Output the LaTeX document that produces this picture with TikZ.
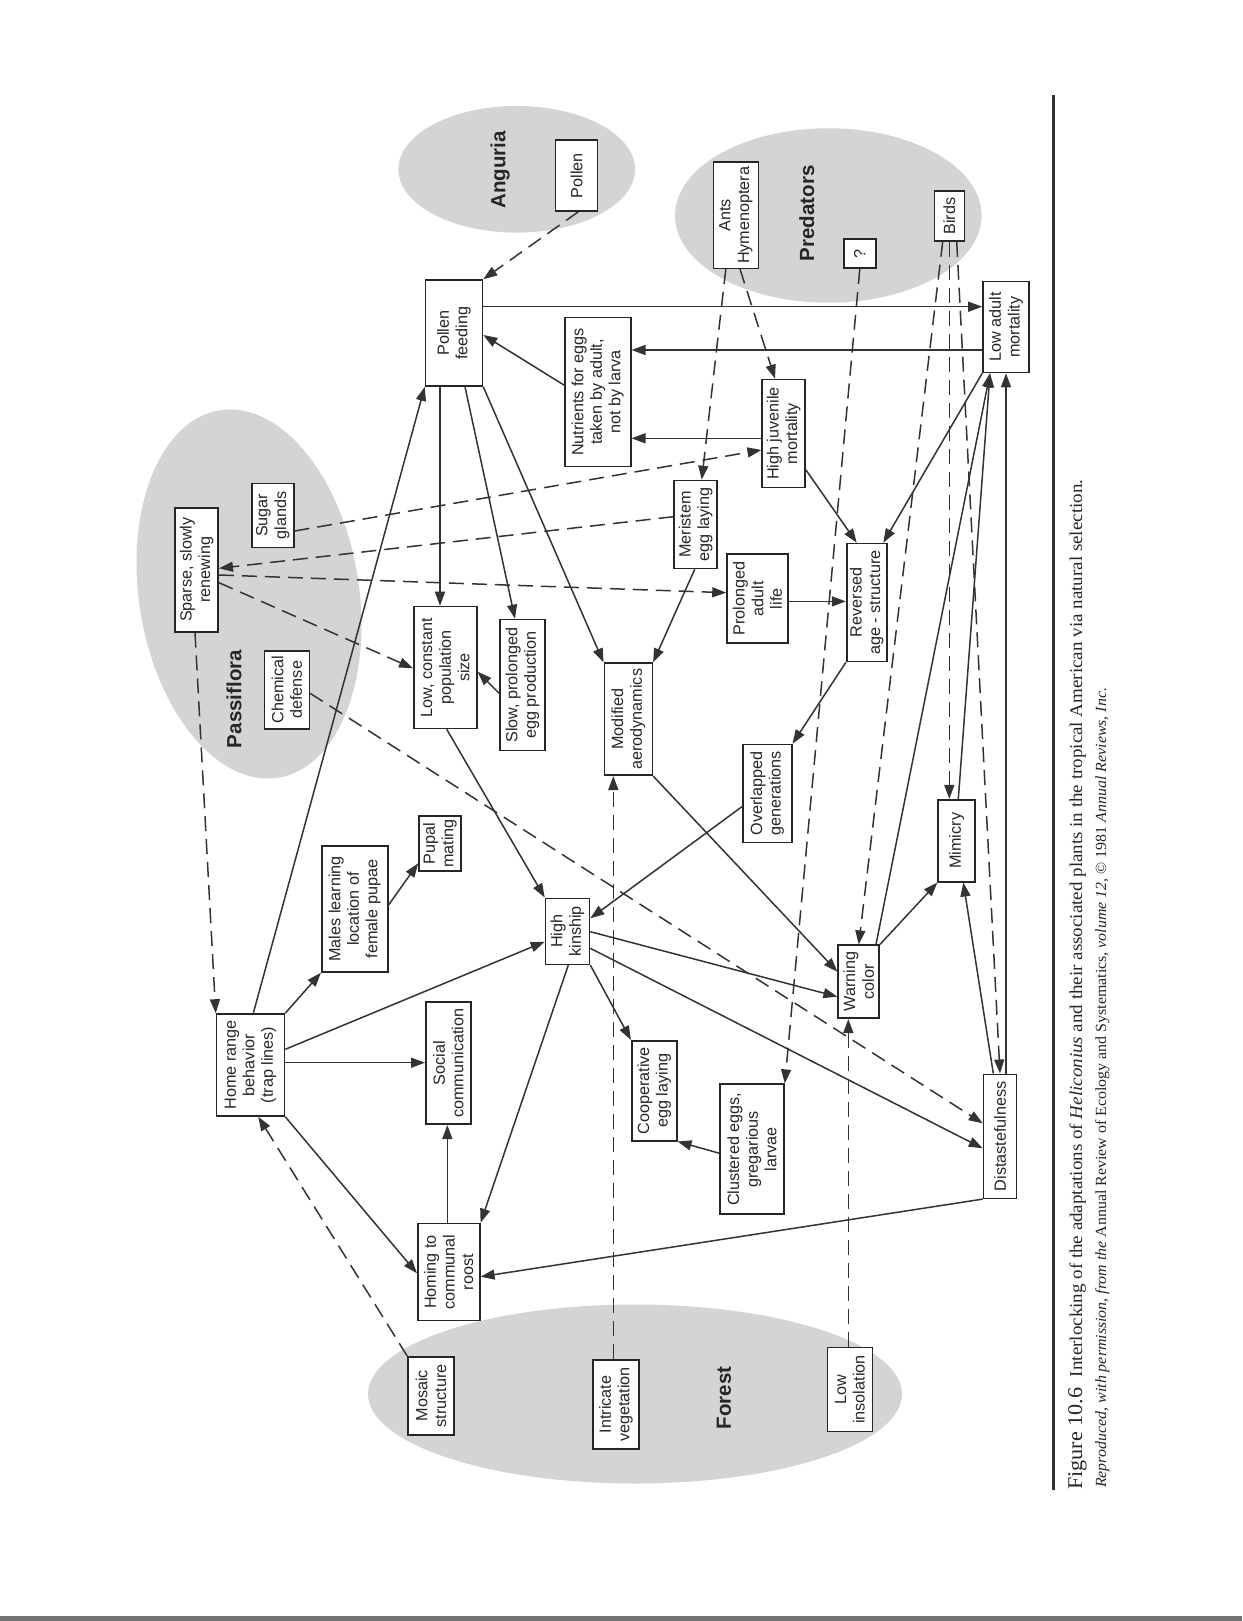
\documentclass[tikz,border=0pt]{standalone}
\usepackage{graphicx}
\usepackage{fontspec}
\setmainfont{Liberation Sans}
\newfontfamily\capfont{Liberation Serif}
\usetikzlibrary{arrows.meta,calc}
\pgfdeclarelayer{bg}
\pgfdeclarelayer{lines}
\pgfsetlayers{bg,lines,main}
\begin{document}
\begin{tikzpicture}[x=1pt,y=-1pt,
  box/.style={draw=black!85, line width=1.6pt, fill=white, rotate=90, align=center, inner sep=0pt, text=black!85, font=\fontsize{16.2}{18.6}\selectfont},
  conn/.style={draw=black!80, line width=1.5pt, -{Triangle[length=14pt,width=10pt]}},
  dsh/.style={conn, dash pattern=on 15pt off 8pt},
  region/.style={fill=black!17, draw=none},
  rlabel/.style={rotate=90, text=black!85, font=\fontsize{20.5}{24}\selectfont\bfseries},
]
\useasboundingbox (0,0) rectangle (1242,1621);

\begin{pgfonlayer}{bg}
\fill[white] (0,0) rectangle (1242,1621);
\fill[region] (516.7,169.3) ellipse [x radius=118.3, y radius=63.3];
\fill[region] (828.3,215.5) ellipse [x radius=153.3, y radius=87.2];
\fill[region, rotate around={9:(249,594)}] (249,594) ellipse [x radius=110, y radius=186];
\fill[region] (635,1394) ellipse [x radius=267, y radius=89.5];
\fill[black!55] (0,1616) rectangle (1242,1621);
\draw[black!80, line width=3.5pt] (1053.5,95) -- (1053.5,1490);
\end{pgfonlayer}

% region labels
\node[rlabel] (lAng) at (500,170) {Anguria};
\node[rlabel] (lPred) at (806.7,213.3) {Predators};
\node[rlabel] (lPass) at (234,699) {Passiflora};
\node[rlabel] (lFor) at (724,1398) {Forest};

% boxes
\node[box, minimum width=71pt, minimum height=42pt] (pollen) at (576.5,175.5) {Pollen};
\node[box, minimum width=106pt, minimum height=57pt] (pfeed) at (454,333) {Pollen\\feeding};
\node[box, minimum width=149pt, minimum height=66pt] (nutr) at (597.7,392) {Nutrients for eggs\\taken by adult,\\not by larva};
\node[box, minimum width=106pt, minimum height=45pt] (ants) at (735.8,215.3) {Ants\\Hymenoptera};
\node[box, minimum width=29pt, minimum height=32pt] (qm) at (859.8,253.7) {?};
\node[box, minimum width=50pt, minimum height=30pt] (birds) at (949.3,216) {Birds};
\node[box, minimum width=91pt, minimum height=46pt] (lam) at (1006,327) {Low adult\\mortality};
\node[box, minimum width=108pt, minimum height=43pt] (hjm) at (783.7,433.5) {High juvenile\\mortality};
\node[box, minimum width=64pt, minimum height=42pt] (sugar) at (272.8,515.3) {Sugar\\glands};
\node[box, minimum width=124pt, minimum height=43pt] (sparse) at (196.7,569.7) {Sparse, slowly\\renewing};
\node[box, minimum width=88pt, minimum height=43pt] (meri) at (695.7,524.5) {Meristem\\egg laying};
\node[box, minimum width=89pt, minimum height=61pt] (prol) at (757.5,598.7) {Prolonged\\adult\\life};
\node[box, minimum width=118pt, minimum height=40pt] (rev) at (866.7,602.5) {Reversed\\age - structure};
\node[box, minimum width=78pt, minimum height=45pt] (chem) at (286.8,689.8) {Chemical\\defense};
\node[box, minimum width=122pt, minimum height=63pt] (lowpop) at (445.3,667.5) {Low, constant\\population\\size};
\node[box, minimum width=131pt, minimum height=45pt] (slow) at (522.5,685) {Slow, prolonged\\egg production};
\node[box, minimum width=112pt, minimum height=48pt] (modaero) at (628.3,719.2) {Modified\\aerodynamics};
\node[box, minimum width=98pt, minimum height=49pt] (overl) at (767.2,793.5) {Overlapped\\generations};
\node[box, minimum width=55pt, minimum height=42pt] (pupal) at (440,843.3) {Pupal\\mating};
\node[box, minimum width=126pt, minimum height=66pt] (males) at (354.7,909) {Males learning\\location of\\female pupae};
\node[box, minimum width=82pt, minimum height=37pt] (mimic) at (956.7,840.7) {Mimicry};
\node[box, minimum width=66pt, minimum height=44pt] (kin) at (567.5,931.3) {High\\kinship};
\node[box, minimum width=73pt, minimum height=41pt] (warn) at (858.7,981.7) {Warning\\color};
\node[box, minimum width=102pt, minimum height=68pt] (home) at (250.5,1065) {Home range\\behavior\\(trap lines)};
\node[box, minimum width=122pt, minimum height=45pt] (social) at (448.3,1063.2) {Social\\communication};
\node[box, minimum width=100pt, minimum height=45pt] (coop) at (654.2,1090.7) {Cooperative\\egg laying};
\node[box, minimum width=130pt, minimum height=64pt] (clust) at (752,1149.2) {Clustered eggs,\\gregarious\\larvae};
\node[box, minimum width=124pt, minimum height=33pt] (dist) at (1000,1136.3) {Distastefulness};
\node[box, minimum width=97pt, minimum height=62pt] (homing) at (448.8,1272) {Homing to\\communal\\roost};
\node[box, minimum width=78pt, minimum height=46pt] (mosaic) at (431,1395.8) {Mosaic\\structure};
\node[box, minimum width=89pt, minimum height=46pt] (intric) at (616,1404.5) {Intricate\\vegetation};
\node[box, minimum width=84pt, minimum height=45pt] (lowins) at (849.8,1389.5) {Low\\insolation};

% caption
\node[rotate=90, anchor=base west, inner sep=0pt, text=black!85] (cap1) at (1082,1490)
  {\resizebox{1010pt}{\height}{\capfont\fontsize{21}{24}\selectfont Figure 10.6\hspace{10pt}\fontsize{18}{20}\selectfont Interlocking of the adaptations of \textit{Heliconius} and their associated plants in the tropical American via natural selection.}};
\node[rotate=90, anchor=base west, inner sep=0pt, text=black!85] (cap2) at (1106,1488)
  {\resizebox{800pt}{\height}{\capfont\fontsize{15.5}{18}\selectfont\textit{Reproduced, with permission, from the} Annual Review of Ecology and Systematics, \textit{volume 12,} © 1981 \textit{Annual Reviews, Inc.}}};

\begin{pgfonlayer}{lines}
% solid connectors
\draw[conn] ($(pfeed.south)+(0,-26.3)$) -- ($(lam.north)+(0,-20.3)$);
\draw[conn] ($(lam.north)+(0,23)$) -- ($(nutr.south)+(0,-42)$);
\draw[conn] ($(nutr.north)+(0,-7)$) -- ($(pfeed.south)+(0,2)$);
\draw[conn] ($(hjm.north)+(0,4.8)$) -- ($(nutr.south)+(0,46.3)$);
\draw[conn] ($(hjm.south)+(0,36.5)$) -- ($(rev.east)+(-10,0)$);
\draw[conn] ($(prol.south)+(0,2.7)$) -- ($(rev.north)+(0,-1.1)$);
\draw[conn] (lam.north west) -- ($(rev.east)+(16.6,0)$);
\draw[conn] ($(warn.south east)+(-4,0)$) -- ($(lam.west)+(-16,0)$);
\draw[conn] ($(mimic.east)+(1.6,0)$) -- ($(lam.west)+(-16,0)$);
\draw[conn] ($(dist.east)+(6,0)$) -- (lam.west);
\draw[conn] (rev.north west) -- (overl.south east);
\draw[conn] ($(overl.north)+(0,13.2)$) -- ($(kin.south)+(0,-13)$);
\draw[conn] ($(pfeed.west)+(-14,0)$) -- ($(lowpop.east)+(-5.3,0)$);
\draw[conn] ($(pfeed.west)+(11,0)$) -- ($(slow.east)+(-7.5,0)$);
\draw[conn] (pfeed.south west) -- (modaero.north east);
\draw[conn] ($(meri.west)+(-1,0)$) -- (modaero.south east);
\draw[conn] ($(slow.north)+(0,8.3)$) -- ($(lowpop.south)+(0,4.2)$);
\draw[conn] ($(lowpop.west)+(1.4,0)$) -- (kin.north east);
\draw[conn] (modaero.south west) -- ($(warn.north)+(0,-10)$);
\draw[conn] ($(kin.south)+(0,0.4)$) -- ($(warn.north)+(0,15)$);
\draw[conn] ($(kin.south)+(0,17)$) -- ($(dist.north)+(0,12)$);
\draw[conn] (kin.south west) -- (coop.north east);
\draw[conn] ($(kin.west)+(0.8,0)$) -- (homing.south east);
\draw[conn] ($(home.south)+(0,-15.7)$) -- ($(kin.north)+(0,10.4)$);
\draw[conn] ($(home.east)+(2.8,0)$) -- (pfeed.north west);
\draw[conn] (home.south east) -- (males.north west);
\draw[conn] ($(males.south)+(0,-4)$) -- ($(pupal.north)+(0,20)$);
\draw[conn] ($(home.south)+(0,-2.3)$) -- ($(social.north)+(0,-0.5)$);
\draw[conn] (home.south west) -- ($(homing.north)+(0,1.3)$);
\draw[conn] ($(homing.east)+(-1.5,0)$) -- ($(social.west)+(-1,0)$);
\draw[conn] (dist.north west) -- ($(homing.south)+(0,4.7)$);
\draw[conn] ($(clust.north)+(0,4)$) -- (coop.south west);
\draw[conn] (warn.south east) -- (mimic.north west);
\draw[conn] ($(dist.east)+(-6.7,0)$) -- ($(mimic.west)+(6.6,0)$);
% dashed connectors
\draw[dsh] ($(pollen.west)+(1.8,0)$) -- (pfeed.south east);
\draw[dsh] ($(sparse.west)+(-1.7,0)$) -- (home.north east);
\draw[dsh] (mosaic.north east) -- ($(home.west)+(7.8,0)$);
\draw[dsh] ($(intric.east)+(-2.7,0)$) -- ($(modaero.west)+(-15,0)$);
\draw[dsh] ($(lowins.east)+(-1.5,0)$) -- ($(warn.west)+(-10.4,0)$);
\draw[dsh] ($(sparse.south)+(0,13)$) -- ($(lowpop.north)+(0,0.8)$);
\draw[dsh] ($(sparse.south)+(0,5.3)$) -- ($(prol.north)+(0,-6)$);
\draw[dsh] ($(meri.north)+(0,-7.8)$) -- ($(sparse.south)+(0,-1.4)$);
\draw[dsh] ($(sugar.south)+(0,15.7)$) -- ($(hjm.north)+(0,16.5)$);
\draw[dsh] ($(chem.south)+(0,3.5)$) -- ($(dist.north)+(0,-13)$);
\draw[dsh] ($(ants.west)+(-10,0)$) -- ($(meri.east)+(6,0)$);
\draw[dsh] ($(ants.west)+(4.2,0)$) -- ($(hjm.east)+(-8.7,0)$);
\draw[dsh] (qm.west) -- (clust.south east);
\draw[dsh] ($(birds.west)+(-6.6,0)$) -- (warn.east);
\draw[dsh] (birds.west) -- ($(mimic.east)+(-7.4,0)$);
\draw[dsh] ($(birds.west)+(7.4,0)$) -- (dist.east);
\end{pgfonlayer}
\end{tikzpicture}
\end{document}
